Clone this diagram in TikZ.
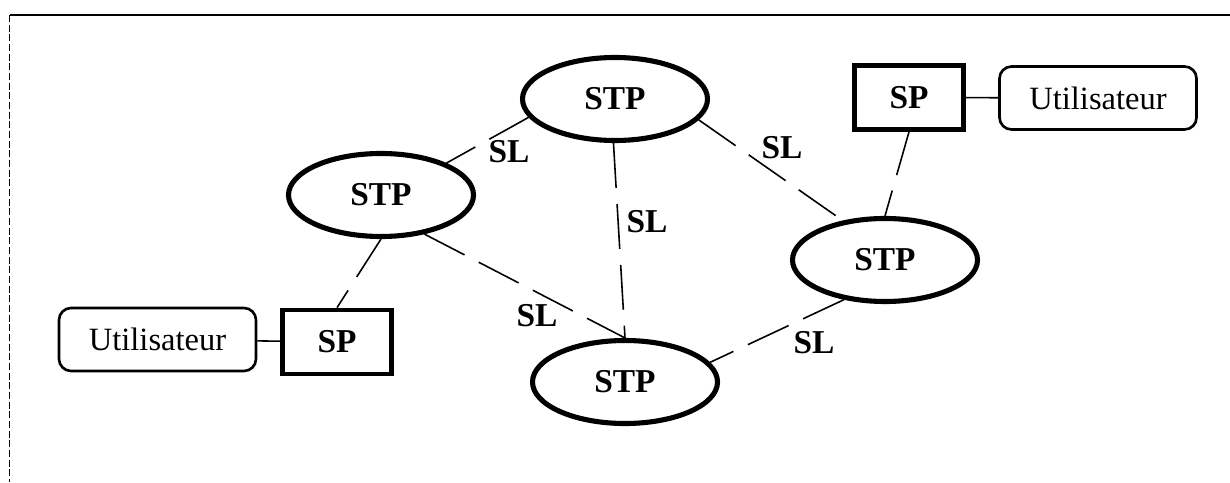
\documentclass[tikz,border=0pt]{standalone}
\usepackage{fontspec}
\setmainfont{Liberation Serif}
\usetikzlibrary{shapes.geometric}

\begin{document}
\begin{tikzpicture}[
    every node/.style={font=\fontsize{19}{23}\selectfont\bfseries},
    stp/.style={draw, ellipse, line width=2.9pt, minimum width=3.7cm, minimum height=1.66cm, inner sep=0pt},
    sp/.style={draw, rectangle, line width=2.7pt, minimum width=2.18cm, minimum height=1.28cm, inner sep=0pt},
    user/.style={draw, rectangle, rounded corners=0.24cm, line width=1.5pt, minimum width=3.94cm, minimum height=1.26cm, inner sep=0pt, font=\fontsize{18.5}{22}\selectfont},
    link/.style={line width=0.9pt, dash pattern=on 0.9cm off 0.32cm},
    lbl/.style={inner sep=0pt}
  ]
    \useasboundingbox (0,0) rectangle (24.6,9.64);
    % the frame
    \draw[line width=1.1pt] (0.2,9.34) -- (24.6,9.34);
    \draw[line width=0.5pt, dash pattern=on 4pt off 1.5pt] (0.18,9.34) -- (0.18,0);
    % the STP nodes
    \node[stp] (stpTop) at (12.3,7.66) {STP};
    \node[stp] (stpLeft) at (7.62,5.74) {STP};
    \node[stp] (stpRight) at (17.7,4.44) {STP};
    \node[stp] (stpBot) at (12.5,2.0) {STP};
    % the SP nodes and the users
    \node[sp] (spRight) at (18.18,7.69) {SP};
    \node[sp] (spLeft) at (6.74,2.8) {SP};
    \node[user] (userRight) at (21.96,7.68) {Utilisateur};
    \node[user] (userLeft) at (3.15,2.85) {Utilisateur};
    % the signalling links
    \draw[link] (stpTop.192) -- (stpLeft.26);
    \draw[link] (stpTop.346) -- (stpRight.137);
    \draw[link] (stpTop.268) -- (stpBot.north);
    \draw[link] (stpLeft.318) -- (stpBot.north);
    \draw[link] (stpRight.224) -- (stpBot.13);
    \draw[link] (spRight.south) -- (stpRight.north);
    \draw[link] (stpLeft.south) -- (spLeft.north);
    \draw[line width=0.9pt] (spRight) -- (userRight);
    \draw[line width=0.9pt] (userLeft) -- (spLeft);
    % the link labels
    \node[lbl] (sl1) at (10.18,6.6) {SL};
    \node[lbl] (sl2) at (15.64,6.68) {SL};
    \node[lbl] (sl3) at (12.94,5.2) {SL};
    \node[lbl] (sl4) at (10.74,3.32) {SL};
    \node[lbl] (sl5) at (16.28,2.78) {SL};
\end{tikzpicture}
\end{document}
